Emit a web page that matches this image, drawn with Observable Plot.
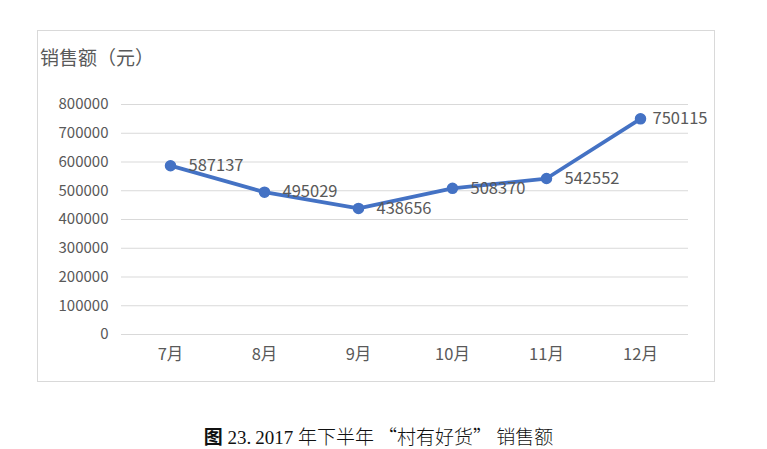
<!DOCTYPE html>
<html lang="zh-CN">
<head>
<meta charset="utf-8">
<script src="https://cdn.jsdelivr.net/npm/d3@7"></script>
<script src="https://cdn.jsdelivr.net/npm/@observablehq/plot@0.6"></script>
<style>
  html, body { margin: 0; padding: 0; background: #fff; }
  #page { position: relative; width: 767px; height: 449px; overflow: hidden; }
  #box { position: absolute; left: 37px; top: 30px; width: 676px; height: 350px; border: 1px solid #d9d9d9; background: #fff; }
  #title { height: 49px; box-sizing: border-box; padding: 15px 0 0 2px; font: 19px/22px "Noto Sans CJK SC", sans-serif; color: #595959; font-weight: 400; }
  #caption { position: absolute; left: 0; top: 425px; width: 757px; text-align: center; font: 19px/22px "Liberation Serif", "Noto Sans CJK SC", serif; color: #111; }
  #caption b { font-family: "Noto Sans CJK SC", sans-serif; font-weight: 700; }
  #caption .cjk { font-family: "Noto Sans CJK SC", sans-serif; font-weight: 300; }
</style>
</head>
<body>
<div id="page">
  <div id="box">
    <div id="title">销售额（元）</div>
    <div id="plot"></div>
  </div>
  <div id="caption"><b>图</b> 23.<span style="margin-left:4px"></span>2017 <span class="cjk">年下半年 “村有好货” 销售额</span></div>
</div>
<script>
const months = ["7月", "8月", "9月", "10月", "11月", "12月"];
const sales = [587137, 495029, 438656, 508370, 542552, 750115];
const yTicks = [0, 100000, 200000, 300000, 400000, 500000, 600000, 700000, 800000];

const data = months.map((m, i) => ({month: m, value: sales[i], last: i === months.length - 1}));
const blue = "#4472C4";

const chart = Plot.plot({
  width: 676,
  height: 300,
  marginLeft: 83,
  marginRight: 26,
  marginTop: 24,
  marginBottom: 46,
  style: {fontFamily: "'Noto Sans CJK SC', sans-serif", fontSize: "15px", color: "#595959", background: "#fff"},
  x: {type: "point", domain: months, padding: 0.5, label: null},
  y: {domain: [0, 800000], ticks: yTicks, label: null},
  marks: [
    Plot.gridY(yTicks, {stroke: "#d9d9d9", strokeOpacity: 1, strokeWidth: 1}),
    Plot.axisY({ticks: yTicks, tickSize: 0, tickPadding: 13, tickFormat: d => String(d), fill: "#595959", fontSize: 15, label: null}),
    Plot.axisX({tickSize: 0, tickPadding: 14, fill: "#595959", fontSize: 16.5, label: null}),
    Plot.line(data, {x: "month", y: "value", stroke: blue, strokeWidth: 3.8, strokeLinejoin: "round"}),
    Plot.dot(data, {x: "month", y: "value", r: 5, fill: blue, stroke: blue}),
    Plot.text(data.filter(d => !d.last), {x: "month", y: "value", text: d => String(d.value), textAnchor: "start", dx: 18, fontSize: 16.5, fill: "#595959"}),
    Plot.text(data.filter(d => d.last), {x: "month", y: "value", text: d => String(d.value), textAnchor: "start", dx: 12, fontSize: 16.5, fill: "#595959"})
  ]
});
document.getElementById("plot").appendChild(chart);
</script>
</body>
</html>
